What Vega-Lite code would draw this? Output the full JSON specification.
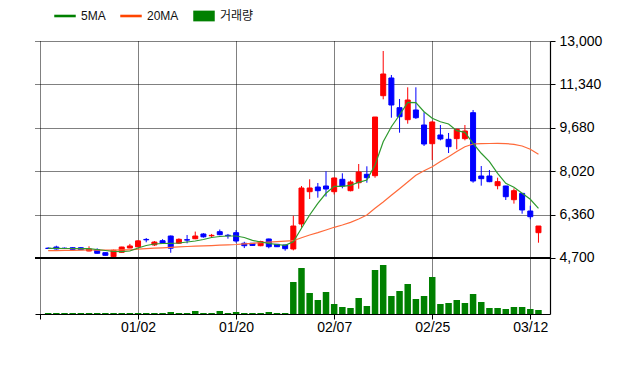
{
  "$schema": "https://vega.github.io/schema/vega-lite/v6.json",
  "width": 515,
  "height": 273,
  "autosize": "none",
  "padding": {"left": 35, "top": 41, "right": 90, "bottom": 54},
  "background": "white",
  "config": {
    "view": {"stroke": null},
    "axis": {
      "labelFont": "Liberation Sans",
      "labelFontSize": 14,
      "labelColor": "#000",
      "domainColor": "#000",
      "domainWidth": 1.2,
      "tickColor": "#000",
      "tickSize": 5,
      "gridColor": "#000",
      "gridDash": [1, 1],
      "gridOpacity": 1,
      "gridWidth": 1,
      "title": null
    }
  },
  "datasets": {
    "k": [
      {"d":"2019-12-13","i":0,"o":5075,"h":5110,"l":5050,"c":5065,"v":30,"ma5":5071,"ma20":4980},
      {"d":"2019-12-16","i":1,"o":5120,"h":5170,"l":5017,"c":5045,"v":30,"ma5":5065,"ma20":4985},
      {"d":"2019-12-17","i":2,"o":5075,"h":5100,"l":5045,"c":5065,"v":30,"ma5":5063,"ma20":4990},
      {"d":"2019-12-18","i":3,"o":5093,"h":5110,"l":5020,"c":5030,"v":30,"ma5":5063,"ma20":4995},
      {"d":"2019-12-19","i":4,"o":5093,"h":5110,"l":5010,"c":5020,"v":30,"ma5":5060,"ma20":5000},
      {"d":"2019-12-20","i":5,"o":4968,"h":5147,"l":4960,"c":5045,"v":30,"ma5":5055,"ma20":5005},
      {"d":"2019-12-23","i":6,"o":5017,"h":5070,"l":4870,"c":4880,"v":30,"ma5":5025,"ma20":5005},
      {"d":"2019-12-24","i":7,"o":4903,"h":4910,"l":4795,"c":4803,"v":30,"ma5":4987,"ma20":5005},
      {"d":"2019-12-26","i":8,"o":4750,"h":5020,"l":4740,"c":4994,"v":30,"ma5":4948,"ma20":5005},
      {"d":"2019-12-27","i":9,"o":4918,"h":5130,"l":4910,"c":5120,"v":30,"ma5":4941,"ma20":5008},
      {"d":"2019-12-30","i":10,"o":5083,"h":5240,"l":5075,"c":5160,"v":30,"ma5":4968,"ma20":5012},
      {"d":"2020-01-02","i":11,"o":5125,"h":5380,"l":5120,"c":5355,"v":30,"ma5":5082,"ma20":5040},
      {"d":"2020-01-03","i":12,"o":5410,"h":5465,"l":5300,"c":5395,"v":30,"ma5":5178,"ma20":5060},
      {"d":"2020-01-06","i":13,"o":5200,"h":5350,"l":5160,"c":5310,"v":30,"ma5":5235,"ma20":5075},
      {"d":"2020-01-07","i":14,"o":5362,"h":5420,"l":5250,"c":5265,"v":30,"ma5":5254,"ma20":5090},
      {"d":"2020-01-08","i":15,"o":5540,"h":5560,"l":4900,"c":5075,"v":60,"ma5":5262,"ma20":5110},
      {"d":"2020-01-09","i":16,"o":5265,"h":5450,"l":5240,"c":5415,"v":30,"ma5":5273,"ma20":5125},
      {"d":"2020-01-10","i":17,"o":5400,"h":5580,"l":5262,"c":5385,"v":30,"ma5":5312,"ma20":5140},
      {"d":"2020-01-13","i":18,"o":5437,"h":5710,"l":5420,"c":5541,"v":90,"ma5":5350,"ma20":5155},
      {"d":"2020-01-14","i":19,"o":5618,"h":5650,"l":5480,"c":5510,"v":30,"ma5":5407,"ma20":5165},
      {"d":"2020-01-15","i":20,"o":5550,"h":5620,"l":5480,"c":5566,"v":30,"ma5":5484,"ma20":5175},
      {"d":"2020-01-16","i":21,"o":5706,"h":5790,"l":5570,"c":5592,"v":90,"ma5":5522,"ma20":5190},
      {"d":"2020-01-17","i":22,"o":5570,"h":5620,"l":5440,"c":5550,"v":30,"ma5":5541,"ma20":5205},
      {"d":"2020-01-20","i":23,"o":5668,"h":5770,"l":5285,"c":5350,"v":60,"ma5":5541,"ma20":5216},
      {"d":"2020-01-21","i":24,"o":5262,"h":5320,"l":5080,"c":5170,"v":30,"ma5":5484,"ma20":5240},
      {"d":"2020-01-22","i":25,"o":5262,"h":5270,"l":5170,"c":5180,"v":30,"ma5":5377,"ma20":5262},
      {"d":"2020-01-23","i":26,"o":5170,"h":5360,"l":5150,"c":5330,"v":30,"ma5":5312,"ma20":5285},
      {"d":"2020-01-28","i":27,"o":5427,"h":5440,"l":5070,"c":5132,"v":60,"ma5":5262,"ma20":5305},
      {"d":"2020-01-29","i":28,"o":5224,"h":5240,"l":5120,"c":5132,"v":30,"ma5":5216,"ma20":5325},
      {"d":"2020-01-30","i":29,"o":5197,"h":5210,"l":4980,"c":5056,"v":30,"ma5":5186,"ma20":5345},
      {"d":"2020-01-31","i":30,"o":5045,"h":6318,"l":4990,"c":5923,"v":960,"ma5":5323,"ma20":5362},
      {"d":"2020-02-03","i":31,"o":6001,"h":7454,"l":5860,"c":7377,"v":1380,"ma5":5836,"ma20":5476},
      {"d":"2020-02-04","i":32,"o":7236,"h":7710,"l":6957,"c":7377,"v":630,"ma5":6345,"ma20":5580},
      {"d":"2020-02-05","i":33,"o":7415,"h":7569,"l":7007,"c":7274,"v":420,"ma5":6792,"ma20":5668},
      {"d":"2020-02-06","i":34,"o":7454,"h":8016,"l":7050,"c":7339,"v":660,"ma5":7175,"ma20":5771},
      {"d":"2020-02-07","i":35,"o":7236,"h":7780,"l":7130,"c":7760,"v":300,"ma5":7442,"ma20":5874},
      {"d":"2020-02-10","i":36,"o":7710,"h":7940,"l":7366,"c":7454,"v":210,"ma5":7442,"ma20":5962},
      {"d":"2020-02-11","i":37,"o":7274,"h":7670,"l":7250,"c":7607,"v":180,"ma5":7481,"ma20":6065},
      {"d":"2020-02-12","i":38,"o":7580,"h":8295,"l":7350,"c":7989,"v":480,"ma5":7595,"ma20":6192},
      {"d":"2020-02-13","i":39,"o":7901,"h":8207,"l":7580,"c":7772,"v":240,"ma5":7683,"ma20":6345},
      {"d":"2020-02-14","i":40,"o":7848,"h":10093,"l":7770,"c":10093,"v":1320,"ma5":8257,"ma20":6601},
      {"d":"2020-02-17","i":41,"o":10908,"h":12618,"l":10770,"c":11738,"v":1470,"ma5":9148,"ma20":6842},
      {"d":"2020-02-18","i":42,"o":11585,"h":11700,"l":10066,"c":10552,"v":540,"ma5":9722,"ma20":7098},
      {"d":"2020-02-19","i":43,"o":10449,"h":10782,"l":9493,"c":10104,"v":690,"ma5":10170,"ma20":7350},
      {"d":"2020-02-20","i":44,"o":9990,"h":11229,"l":9837,"c":10743,"v":900,"ma5":10655,"ma20":7607},
      {"d":"2020-02-21","i":45,"o":10361,"h":11229,"l":10020,"c":10066,"v":450,"ma5":10640,"ma20":7863},
      {"d":"2020-02-24","i":46,"o":9787,"h":10273,"l":8984,"c":9060,"v":540,"ma5":10296,"ma20":8040},
      {"d":"2020-02-25","i":47,"o":9072,"h":9950,"l":8448,"c":9902,"v":1110,"ma5":10043,"ma20":8192},
      {"d":"2020-02-26","i":48,"o":9405,"h":9787,"l":9200,"c":9252,"v":300,"ma5":9913,"ma20":8390},
      {"d":"2020-02-27","i":49,"o":9240,"h":9482,"l":8716,"c":8957,"v":330,"ma5":9825,"ma20":8575},
      {"d":"2020-02-28","i":50,"o":9265,"h":9640,"l":8857,"c":9622,"v":420,"ma5":9569,"ma20":8770},
      {"d":"2020-03-02","i":51,"o":9265,"h":9787,"l":9200,"c":9558,"v":330,"ma5":9508,"ma20":8957},
      {"d":"2020-03-03","i":52,"o":10258,"h":10361,"l":7580,"c":7645,"v":600,"ma5":9087,"ma20":9060},
      {"d":"2020-03-04","i":53,"o":7836,"h":8218,"l":7466,"c":7734,"v":360,"ma5":8705,"ma20":9072},
      {"d":"2020-03-05","i":54,"o":7836,"h":8066,"l":7600,"c":7619,"v":180,"ma5":8384,"ma20":9080},
      {"d":"2020-03-06","i":55,"o":7466,"h":7772,"l":7327,"c":7619,"v":180,"ma5":7940,"ma20":9087},
      {"d":"2020-03-09","i":56,"o":7454,"h":7460,"l":6918,"c":7045,"v":150,"ma5":7557,"ma20":9075},
      {"d":"2020-03-10","i":57,"o":6930,"h":7360,"l":6780,"c":7274,"v":210,"ma5":7404,"ma20":9049},
      {"d":"2020-03-11","i":58,"o":7172,"h":7180,"l":6394,"c":6536,"v":210,"ma5":7175,"ma20":8984},
      {"d":"2020-03-12","i":59,"o":6497,"h":6700,"l":6180,"c":6279,"v":150,"ma5":6945,"ma20":8857},
      {"d":"2020-03-13","i":60,"o":5668,"h":5923,"l":5285,"c":5923,"v":120,"ma5":6601,"ma20":8665}
    ]
  },
  "data": {"name": "k"},
  "layer": [
    {
      "layer": [
        {
          "mark": {"type": "rule", "strokeWidth": 1},
          "encoding": {
            "x": {"field": "i", "type": "quantitative", "title": null, "scale": {"domain": [-1, 60.8], "nice": false, "zero": false},
              "axis": {"orient": "bottom", "values": [-1, 11, 23, 35, 47, 59], "grid": true, "labelPadding": 1,
                "labelExpr": "datum.value == 11 ? '01/02' : datum.value == 23 ? '01/20' : datum.value == 35 ? '02/07' : datum.value == 47 ? '02/25' : datum.value == 59 ? '03/12' : ''"}},
            "y": {"field": "h", "type": "quantitative", "title": null, "scale": {"domain": [2558, 13000], "nice": false, "zero": false},
              "axis": {"orient": "right", "values": [4700, 6360, 8020, 9680, 11340, 13000], "grid": true, "labelPadding": 4,
                "labelExpr": "format(datum.value, ',')"}},
            "y2": {"field": "l"},
            "color": {"condition": {"test": "datum.c >= datum.o", "value": "#ff0000"}, "value": "#0000ff"}
          }
        },
        {
          "mark": {"type": "bar", "width": 5, "strokeWidth": 1},
          "encoding": {
            "x": {"field": "i", "type": "quantitative", "title": null, "scale": {"domain": [-1, 60.8], "nice": false, "zero": false}},
            "y": {"field": "o", "type": "quantitative", "title": null, "scale": {"domain": [2558, 13000], "nice": false, "zero": false}},
            "y2": {"field": "c"},
            "fill": {"condition": {"test": "datum.c >= datum.o", "value": "#ff0000"}, "value": "#0000ff"},
            "stroke": {"condition": {"test": "datum.c >= datum.o", "value": "#ff0000"}, "value": "#0000ff"}
          }
        },
        {
          "mark": {"type": "line", "stroke": "#ff6a3a", "strokeWidth": 1.2},
          "encoding": {
            "x": {"field": "i", "type": "quantitative", "title": null, "scale": {"domain": [-1, 60.8], "nice": false, "zero": false}},
            "y": {"field": "ma20", "type": "quantitative", "title": null, "scale": {"domain": [2558, 13000], "nice": false, "zero": false}}
          }
        },
        {
          "mark": {"type": "line", "stroke": "#2e9a2e", "strokeWidth": 1.2},
          "encoding": {
            "x": {"field": "i", "type": "quantitative", "title": null, "scale": {"domain": [-1, 60.8], "nice": false, "zero": false}},
            "y": {"field": "ma5", "type": "quantitative", "title": null, "scale": {"domain": [2558, 13000], "nice": false, "zero": false}}
          }
        },
        {
          "mark": {"type": "rule", "color": "#000", "strokeWidth": 1.2},
          "encoding": {
            "y": {"datum": 4700, "type": "quantitative", "scale": {"domain": [2558, 13000], "nice": false, "zero": false}}
          }
        },
        {
          "transform": [{"fold": ["ma5", "ma20", "v"], "as": ["s", "val"]}, {"filter": "datum.i < 0"}],
          "mark": {"type": "point", "filled": true, "opacity": 1},
          "encoding": {
            "x": {"field": "i", "type": "quantitative", "title": null, "scale": {"domain": [-1, 60.8], "nice": false, "zero": false}},
            "color": {"field": "s", "type": "nominal", "title": null,
              "scale": {"domain": ["ma5", "ma20", "v"], "range": ["#008000", "#ff4500", "#008000"]},
              "legend": {"orient": "none", "legendX": 19, "legendY": -36, "direction": "horizontal", "title": null, "padding": 0,
                "symbolSize": 462, "symbolStrokeWidth": 0, "labelOffset": 5, "columnPadding": 14,
                "labelFont": "Liberation Sans, Noto Sans CJK KR", "labelFontSize": 12, "labelColor": "#111",
                "labelExpr": "datum.label == 'ma5' ? '5MA' : datum.label == 'ma20' ? '20MA' : '거래량'"}},
            "shape": {"field": "s", "type": "nominal", "title": null,
              "scale": {"domain": ["ma5", "ma20", "v"], "range": ["M-1,-0.12H1V0.12H-1Z", "M-1,-0.12H1V0.12H-1Z", "M-1,-0.5H1V0.5H-1Z"]},
              "legend": {"orient": "none", "legendX": 19, "legendY": -36, "direction": "horizontal", "title": null, "padding": 0,
                "symbolSize": 462, "symbolStrokeWidth": 0, "labelOffset": 5, "columnPadding": 14,
                "labelFont": "Liberation Sans, Noto Sans CJK KR", "labelFontSize": 12, "labelColor": "#111",
                "labelExpr": "datum.label == 'ma5' ? '5MA' : datum.label == 'ma20' ? '20MA' : '거래량'"}}
          }
        }
      ]
    },
    {
      "mark": {"type": "bar", "width": 6.5, "color": "#008000"},
      "encoding": {
        "x": {"field": "i", "type": "quantitative", "title": null, "scale": {"domain": [-1, 60.8], "nice": false, "zero": false}},
        "y": {"field": "v", "type": "quantitative", "title": null, "scale": {"domain": [0, 8190], "nice": false}, "axis": null}
      }
    }
  ],
  "resolve": {"scale": {"y": "independent"}, "axis": {"y": "independent"}}
}
